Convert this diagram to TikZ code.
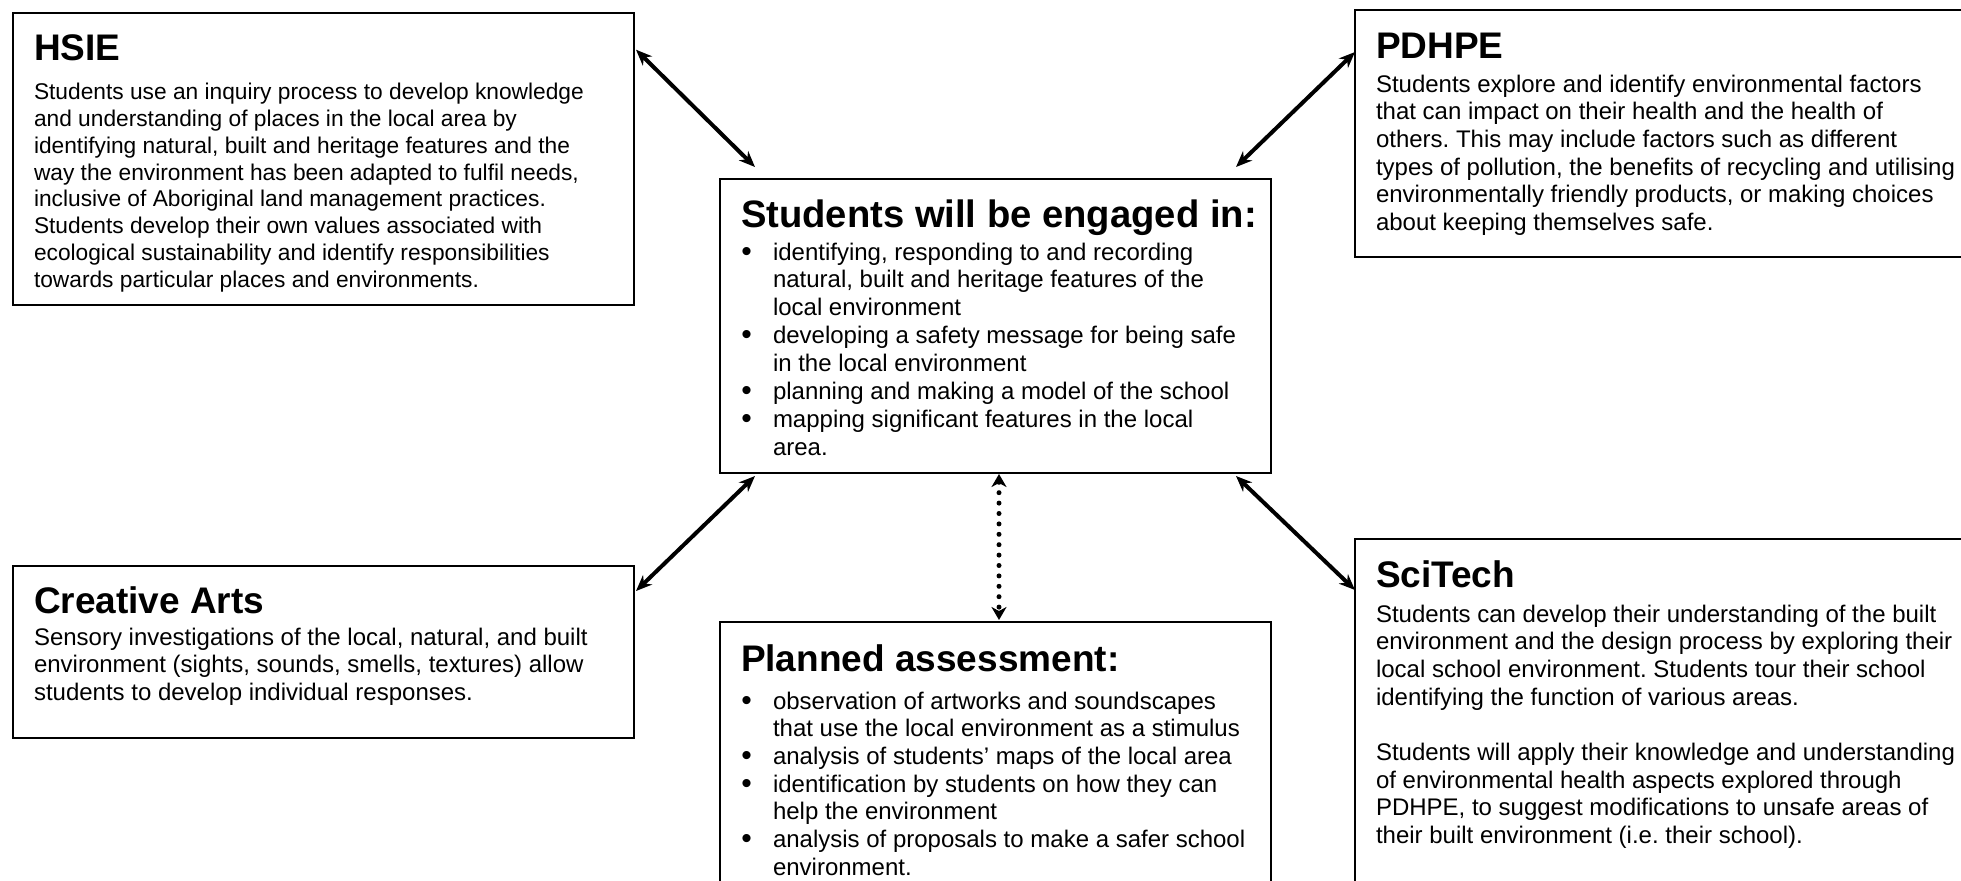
\documentclass[tikz,border=0pt]{standalone}
\usepackage{fontspec}
\setmainfont{Liberation Sans}
\usetikzlibrary{arrows.meta,calc}
\frenchspacing

% bullet item with a hanging indent; continuation lines use \newline
\newcommand\bul{\par\hangindent=16pt\hangafter=1\noindent
  \makebox[16pt][l]{\hspace{0.2pt}\raisebox{-0.6pt}{\fontsize{15}{0}\selectfont\textbullet}}}
\newcommand\headfont{\fontsize{18.5}{22}\selectfont\bfseries}
\newcommand\bodyfont{\fontsize{12}{13.85}\selectfont\frenchspacing}

\begin{document}
\begin{tikzpicture}[x=0.5pt,y=-0.5pt,
  panel/.style={draw, line width=1pt, anchor=north west, inner sep=0pt, outer sep=0pt},
  heading/.style={anchor=base west, inner sep=0pt, outer sep=0pt, font=\headfont},
  words/.style={anchor=base west, inner sep=0pt, outer sep=0pt},
  link/.style={line width=2pt,
    {Stealth[length=8pt,width=6.5pt,inset=2.5pt]}-{Stealth[length=8pt,width=6.5pt,inset=2.5pt]}},
  dotlink/.style={line width=2.5pt, line cap=round, dash pattern=on 0pt off 5.2pt,
    {Stealth[length=6.5pt,width=7.5pt,inset=2pt]}-{Stealth[length=6.5pt,width=7.5pt,inset=2pt]}},
]
\useasboundingbox (0,0) rectangle (1961,880);

% ---------- panels ----------
\node[panel, minimum width=310.75pt, minimum height=146.2pt] (hsie)    at (12.5,12.7) {};
\node[panel, minimum width=317.5pt,  minimum height=123.5pt] (pdhpe)   at (1355,10) {};
\node[panel, minimum width=275.5pt,  minimum height=147pt]   (core)    at (720,179) {};
\node[panel, minimum width=310.75pt, minimum height=86pt]    (arts)    at (12.5,566) {};
\node[panel, minimum width=275.5pt,  minimum height=140pt]   (plan)    at (720,622) {};
\node[panel, minimum width=317.5pt,  minimum height=182pt]   (scitech) at (1355,539) {};

% ---------- HSIE ----------
\node[heading] (hsieT) at ($(hsie.north west)+(21.5,48)$) {HSIE};
\node[words] (hsieB) at ($(hsie.north west)+(21.5,87)$) {\begin{minipage}[t]{300pt}\fontsize{11.37}{13.4}\selectfont\frenchspacing\raggedright
Students use an inquiry process to develop knowledge\\
and understanding of places in the local area by\\
identifying natural, built and heritage features and the\\
way the environment has been adapted to fulfil needs,\\
inclusive of Aboriginal land management practices.\\
Students develop their own values associated with\\
ecological sustainability and identify responsibilities\\
towards particular places and environments.
\end{minipage}};

% ---------- PDHPE ----------
\node[heading] (pdhpeT) at ($(pdhpe.north west)+(21,48)$) {PDHPE};
\node[words] (pdhpeB) at ($(pdhpe.north west)+(21,82)$) {\begin{minipage}[t]{300pt}\bodyfont\raggedright
Students explore and identify environmental factors\\
that can impact on their health and the health of\\
others. This may include factors such as different\\
types of pollution, the benefits of recycling and utilising\\
environmentally friendly products, or making choices\\
about keeping themselves safe.
\end{minipage}};

% ---------- centre ----------
\node[heading, font=\fontsize{19.1}{22}\selectfont\bfseries] (coreT) at ($(core.north west)+(21,48)$) {Students will be engaged in:};
\node[words] (coreB) at ($(core.north west)+(21,81)$) {\begin{minipage}[t]{262pt}\fontsize{12}{13.95}\selectfont\frenchspacing
\bul identifying, responding to and recording\newline
natural, built and heritage features of the\newline
local environment
\bul developing a safety message for being safe\newline
in the local environment
\bul planning and making a model of the school
\bul mapping significant features in the local\newline
area.
\end{minipage}};

% ---------- Creative Arts ----------
\node[heading] (artsT) at ($(arts.north west)+(21.5,47)$) {Creative Arts};
\node[words] (artsB) at ($(arts.north west)+(21.5,79)$) {\begin{minipage}[t]{300pt}\bodyfont\raggedright
Sensory investigations of the local, natural, and built\\
environment (sights, sounds, smells, textures) allow\\
students to develop individual responses.
\end{minipage}};

% ---------- Planned assessment ----------
\node[heading] (planT) at ($(plan.north west)+(21,49)$) {Planned assessment:};
\node[words] (planB) at ($(plan.north west)+(21,87)$) {\begin{minipage}[t]{262pt}\bodyfont
\bul observation of artworks and soundscapes\newline
that use the local environment as a stimulus
\bul analysis of students’ maps of the local area
\bul identification by students on how they can\newline
help the environment
\bul analysis of proposals to make a safer school\newline
environment.
\end{minipage}};

% ---------- SciTech ----------
\node[heading] (sciT) at ($(scitech.north west)+(21,48)$) {SciTech};
\node[words] (sciB) at ($(scitech.north west)+(21,83)$) {\begin{minipage}[t]{300pt}\bodyfont\raggedright
Students can develop their understanding of the built\\
environment and the design process by exploring their\\
local school environment. Students tour their school\\
identifying the function of various areas.\\[13.85pt]
Students will apply their knowledge and understanding\\
of environmental health aspects explored through\\
PDHPE, to suggest modifications to unsafe areas of\\
their built environment (i.e. their school).
\end{minipage}};

% ---------- connector ends ----------
\coordinate (hsieA) at ($(hsie.north east)+(2,37)$);
\coordinate (coreNW) at ($(core.north west)+(35,-12)$);
\coordinate (pdhpeA) at ($(pdhpe.north west)+(0,42)$);
\coordinate (coreNE) at ($(core.north east)+(-35,-12)$);
\coordinate (artsA) at ($(arts.north east)+(2,25)$);
\coordinate (coreSW) at ($(core.south west)+(35,3)$);
\coordinate (sciA) at ($(scitech.north west)+(0,51)$);
\coordinate (coreSE) at ($(core.south east)+(-35,3)$);
\coordinate (coreS) at ($(core.south)+(3.5,1)$);
\coordinate (planN) at ($(plan.north)+(3.5,-2)$);

% ---------- connectors ----------
\draw[link] (hsieA) -- (coreNW);
\draw[link] (pdhpeA) -- (coreNE);
\draw[link] (artsA) -- (coreSW);
\draw[link] (sciA) -- (coreSE);
\draw[dotlink] (coreS) -- (planN);
\end{tikzpicture}
\end{document}
